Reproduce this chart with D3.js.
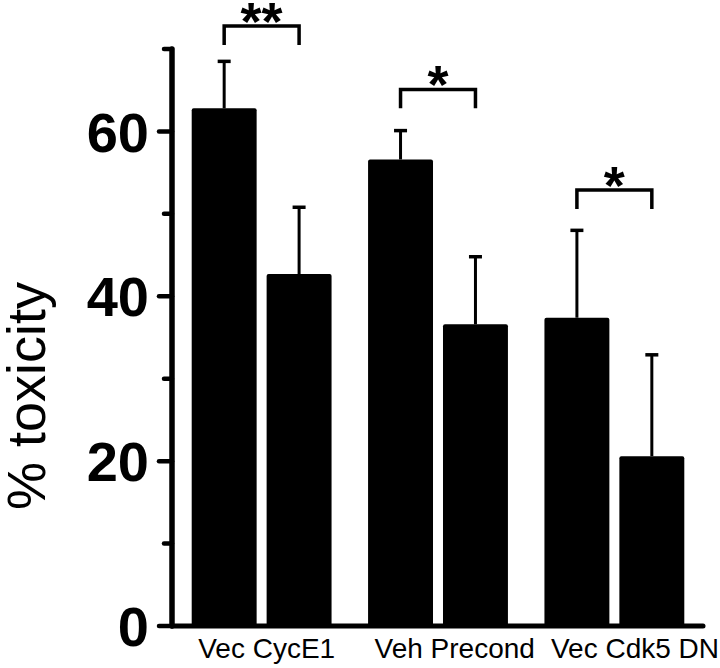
<!DOCTYPE html>
<html>
<head>
<meta charset="utf-8">
<script src="https://cdn.jsdelivr.net/npm/d3@7"></script>
<style>
  html, body { margin: 0; padding: 0; background: #fff; }
  svg { display: block; }
</style>
</head>
<body>
<svg id="chart" width="720" height="668"></svg>
<script>
// ---- data ----
const groups = ["CycE1", "Precond", "Cdk5 DN"];
const categories = ["Vec", "CycE1", "Veh", "Precond", "Vec", "Cdk5 DN"];
const groupOf = [0, 0, 1, 1, 2, 2];
const values = [62.8, 42.7, 56.6, 36.6, 37.4, 20.6];
const errors = [5.7, 8.1, 3.5, 8.2, 10.6, 12.3];
const significance = ["**", "*", "*"];
const bracketLevels = [72.8, 65.1, 52.9];
const majorTicks = [0, 20, 40, 60];
const minorTicks = [10, 30, 50, 70];
const yTitle = "% toxicity";

// ---- layout ----
const svg = d3.select("#chart");
const font = "Liberation Sans, Arial, sans-serif";
const y = d3.scaleLinear().domain([0, 70]).range([626, 49]);
const xGroup = d3.scaleBand().domain(d3.range(groups.length))
  .range([191.7, 684.3]).paddingInner(0.207).paddingOuter(0);
const xInner = d3.scaleBand().domain([0, 1])
  .range([0, xGroup.bandwidth()]).paddingInner(0.1333).paddingOuter(0);
const barX = i => xGroup(groupOf[i]) + xInner(i % 2);
const barC = i => barX(i) + xInner.bandwidth() / 2;
const bracketDrop = 2.3;

// bars
svg.append("g").selectAll("rect").data(values).join("rect")
  .attr("x", (d, i) => barX(i))
  .attr("y", d => y(d))
  .attr("width", xInner.bandwidth())
  .attr("height", d => y(0) - y(d))
  .attr("rx", 2)
  .attr("fill", "#000");

// error bars (upper only)
const eb = svg.append("g").attr("stroke", "#000");
values.forEach((v, i) => {
  eb.append("line")
    .attr("x1", barC(i)).attr("x2", barC(i))
    .attr("y1", y(v)).attr("y2", y(v + errors[i]))
    .attr("stroke-width", 3);
  eb.append("line")
    .attr("x1", barC(i) - 6.5).attr("x2", barC(i) + 6.5)
    .attr("y1", y(v + errors[i])).attr("y2", y(v + errors[i]))
    .attr("stroke-width", 3.5);
});

// significance brackets
const br = svg.append("g");
groups.forEach((g, k) => {
  const a = barC(2 * k), b = barC(2 * k + 1);
  const top = y(bracketLevels[k]), bot = y(bracketLevels[k] - bracketDrop);
  br.append("path")
    .attr("d", `M${a},${bot}V${top}H${b}V${bot}`)
    .attr("fill", "none").attr("stroke", "#000")
    .attr("stroke-width", 3.5).attr("stroke-linejoin", "miter");
  br.append("text")
    .attr("x", (a + b) / 2).attr("y", top + 14)
    .attr("text-anchor", "middle")
    .attr("font-family", font)
    .attr("font-weight", "bold").attr("font-size", 54)
    .text(significance[k]);
});

// y axis
const axisX = 172;
const ya = svg.append("g");
ya.append("line")
  .attr("x1", axisX).attr("x2", axisX)
  .attr("y1", y(70)).attr("y2", y(0))
  .attr("stroke", "#000").attr("stroke-width", 5.5).attr("stroke-linecap", "round");
ya.selectAll("line.major").data(majorTicks).join("line").attr("class", "major")
  .attr("x1", 159).attr("x2", axisX).attr("y1", d => y(d)).attr("y2", d => y(d))
  .attr("stroke", "#000").attr("stroke-width", 4.5).attr("stroke-linecap", "round");
ya.selectAll("line.minor").data(minorTicks).join("line").attr("class", "minor")
  .attr("x1", 164).attr("x2", axisX).attr("y1", d => y(d)).attr("y2", d => y(d))
  .attr("stroke", "#000").attr("stroke-width", 4.5).attr("stroke-linecap", "round");
ya.selectAll("text").data(majorTicks).join("text")
  .attr("x", 149).attr("y", d => y(d)).attr("dy", "0.36em")
  .attr("text-anchor", "end")
  .attr("font-family", font)
  .attr("font-weight", "bold").attr("font-size", 56)
  .text(d => d);

// x axis line
svg.append("line")
  .attr("x1", axisX).attr("x2", 703)
  .attr("y1", y(0)).attr("y2", y(0))
  .attr("stroke", "#000").attr("stroke-width", 5).attr("stroke-linecap", "round");

// category labels (one line per group pair)
svg.append("g").selectAll("text").data(groups).join("text")
  .attr("x", (d, k) => xGroup(k) + 6.5).attr("y", 658)
  .attr("text-anchor", "start")
  .attr("font-family", font)
  .attr("font-size", 28)
  .text((d, k) => categories[2 * k] + " " + categories[2 * k + 1]);

// y title
svg.append("text")
  .attr("transform", "translate(45,396) rotate(-90)")
  .attr("text-anchor", "middle")
  .attr("font-family", font)
  .attr("font-size", 54)
  .text(yTitle);
</script>
</body>
</html>
